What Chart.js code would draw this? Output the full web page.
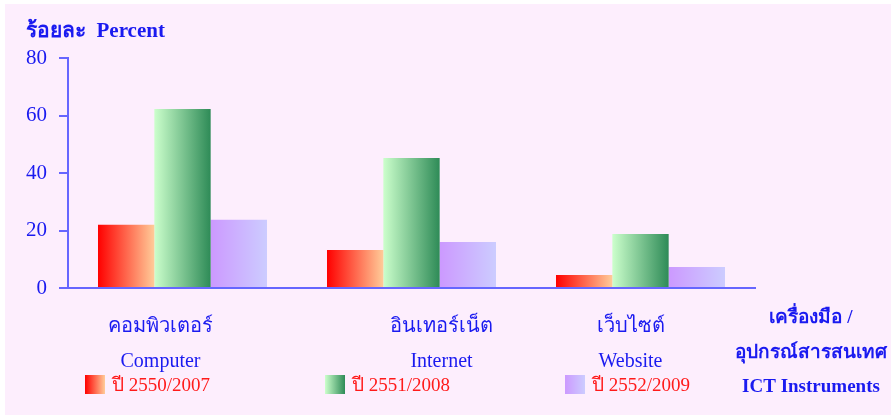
<!DOCTYPE html>
<html><head><meta charset="utf-8">
<script src="https://cdn.jsdelivr.net/npm/chart.js@4/dist/chart.umd.min.js"></script>
<style>html,body{margin:0;padding:0;background:#fff;overflow:hidden}#wrap{width:894px;height:415px;position:relative}</style>
</head><body><div id="wrap"><canvas id="c"></canvas></div>
<script>
// ---- data ----
const categoriesThai = ['คอมพิวเตอร์', 'อินเทอร์เน็ต', 'เว็บไซต์'];
const categoriesEn = ['Computer', 'Internet', 'Website'];
const seriesLabels = ['ปี 2550/2007', 'ปี 2551/2008', 'ปี 2552/2009'];
const values2007 = [22.0, 13.2, 4.5];
const values2008 = [62.3, 45.2, 18.8];
const values2009 = [23.7, 16.0, 7.3];
const yTickValues = [0, 20, 40, 60, 80];
const yTitle = 'ร้อยละ  Percent';
const xTitleLines = ['เครื่องมือ /', 'อุปกรณ์สารสนเทศ', 'ICT Instruments'];

// ---- styles ----
const SERIF = '"Liberation Serif", "Times New Roman", serif';
const BLUE = '#1a1af0';
const AXIS = '#6666ff';
const RED = '#ff1a1a';
const gradStops = [
  ['#ff0000', '#ffcc99'],
  ['#ccffcc', '#2e8b57'],
  ['#cc99ff', '#ccccff']
];
const CAT_PCT = 0.738;
const labelOffsets = [-22, 30, -10];

function barGradient(ctx) {
  const stops = gradStops[ctx.datasetIndex];
  const chart = ctx.chart;
  if (ctx.type !== 'data' || !chart.chartArea || !chart.scales.x) return stops[0];
  const xs = chart.scales.x;
  const n = categoriesEn.length;
  const catW = xs.width / n;
  const group = catW * CAT_PCT;
  const bw = group / chart.data.datasets.length;
  const center = xs.getPixelForValue(ctx.dataIndex);
  const left = center - group / 2 + ctx.datasetIndex * bw;
  const g = chart.ctx.createLinearGradient(left, 0, left + bw, 0);
  g.addColorStop(0, stops[0]);
  g.addColorStop(1, stops[1]);
  return g;
}

const decor = {
  id: 'decor',
  beforeDraw(chart) {
    const c = chart.ctx;
    c.save();
    c.fillStyle = '#ffffff';
    c.fillRect(0, 0, chart.width, chart.height);
    c.fillStyle = '#fdeefd';
    c.fillRect(5, 4, chart.width - 8, chart.height - 4);
    c.restore();
  },
  afterDraw(chart) {
    const c = chart.ctx;
    const xs = chart.scales.x;
    c.save();
    c.textBaseline = 'middle';
    // y title
    c.fillStyle = BLUE;
    c.textAlign = 'left';
    c.font = 'bold 21px ' + SERIF;
    c.fillText(yTitle, 26, 32);
    // category labels
    c.textAlign = 'center';
    for (let i = 0; i < categoriesEn.length; i++) {
      const x = xs.getPixelForValue(i) + labelOffsets[i];
      c.font = '20px ' + SERIF;
      c.fillText(categoriesThai[i], x, 327);
      c.font = '20px ' + SERIF;
      c.fillText(categoriesEn[i], x, 362);
    }
    // legend
    chart.data.datasets.forEach((ds, i) => {
      const lx = 85 + 240 * i, ly = 375;
      const g = c.createLinearGradient(lx, 0, lx + 20, 0);
      g.addColorStop(0, gradStops[i][0]);
      g.addColorStop(1, gradStops[i][1]);
      c.fillStyle = g;
      c.fillRect(lx, ly, 20, 19);
      c.fillStyle = RED;
      c.textAlign = 'left';
      c.font = '19px ' + SERIF;
      c.fillText(ds.label, lx + 27, 386);
    });
    // x title (right)
    c.fillStyle = BLUE;
    c.textAlign = 'center';
    c.font = 'bold 19px ' + SERIF;
    const ty = [318, 353, 387];
    xTitleLines.forEach((t, i) => c.fillText(t, 811, ty[i]));
    c.restore();
  }
};

new Chart(document.getElementById('c'), {
  type: 'bar',
  data: {
    labels: categoriesEn,
    datasets: [
      { label: seriesLabels[0], data: values2007, backgroundColor: barGradient },
      { label: seriesLabels[1], data: values2008, backgroundColor: barGradient },
      { label: seriesLabels[2], data: values2009, backgroundColor: barGradient }
    ]
  },
  options: {
    responsive: true,
    maintainAspectRatio: false,
    animation: false,
    datasets: { bar: { categoryPercentage: CAT_PCT, barPercentage: 1.0, borderWidth: 0 } },
    layout: { padding: { top: 58, right: 139, left: 0, bottom: 0 } },
    plugins: { legend: { display: false }, tooltip: { enabled: false }, colors: { enabled: false } },
    scales: {
      x: {
        type: 'category',
        ticks: { display: false },
        grid: { display: false },
        border: { display: true, color: AXIS, width: 2 },
        afterFit(s) { s.height = 127; }
      },
      y: {
        min: 0, max: 80,
        afterBuildTicks(s) { s.ticks = yTickValues.map(v => ({ value: v })); },
        ticks: { color: BLUE, font: { family: SERIF, size: 21 }, padding: 12 },
        grid: { drawOnChartArea: false, drawTicks: true, tickLength: 9, color: AXIS, lineWidth: 2 },
        border: { display: true, color: AXIS, width: 2 },
        afterFit(s) { s.width = 68; }
      }
    }
  },
  plugins: [decor]
});
</script>
</body></html>
